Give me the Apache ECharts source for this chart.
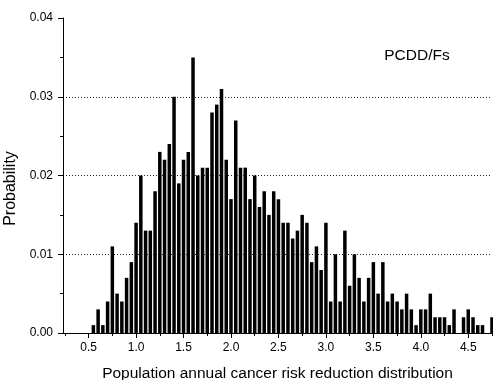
<!DOCTYPE html>
<html>
<head>
<meta charset="utf-8">
<script src="https://cdn.jsdelivr.net/npm/echarts@6/dist/echarts.min.js"></script>
<style>
  html, body { margin: 0; padding: 0; background: #fff; }
  #chart { width: 493px; height: 380px; }
</style>
</head>
<body>
<div id="chart"></div>
<script>
// bin centres (width 0.05) and probability per bin
const binCenters = [
  0.55, 0.60, 0.65, 0.70, 0.75, 0.80, 0.85, 0.90, 0.95, 1.00,
  1.05, 1.10, 1.15, 1.20, 1.25, 1.30, 1.35, 1.40, 1.45, 1.50,
  1.55, 1.60, 1.65, 1.70, 1.75, 1.80, 1.85, 1.90, 1.95, 2.00,
  2.05, 2.10, 2.15, 2.20, 2.25, 2.30, 2.35, 2.40, 2.45, 2.50,
  2.55, 2.60, 2.65, 2.70, 2.75, 2.80, 2.85, 2.90, 2.95, 3.00,
  3.05, 3.10, 3.15, 3.20, 3.25, 3.30, 3.35, 3.40, 3.45, 3.50,
  3.55, 3.60, 3.65, 3.70, 3.75, 3.80, 3.85, 3.90, 3.95, 4.00,
  4.05, 4.10, 4.15, 4.20, 4.25, 4.30, 4.35, 4.40, 4.45, 4.50,
  4.55, 4.60, 4.65, 4.70, 4.75
];
const probabilities = [
  0.001, 0.003, 0.001, 0.004, 0.011, 0.005, 0.004, 0.007, 0.009, 0.014,
  0.020, 0.013, 0.013, 0.018, 0.023, 0.022, 0.024, 0.030, 0.019, 0.022,
  0.023, 0.035, 0.020, 0.021, 0.021, 0.028, 0.029, 0.031, 0.022, 0.017,
  0.027, 0.021, 0.021, 0.017, 0.020, 0.016, 0.018, 0.015, 0.018, 0.017,
  0.014, 0.014, 0.012, 0.013, 0.015, 0.014, 0.009, 0.011, 0.008, 0.014,
  0.004, 0.010, 0.004, 0.013, 0.006, 0.010, 0.007, 0.004, 0.007, 0.009,
  0.005, 0.009, 0.004, 0.005, 0.004, 0.003, 0.005, 0.003, 0.001, 0.003,
  0.003, 0.005, 0.002, 0.002, 0.002, 0.001, 0.003, 0.000, 0.002, 0.003,
  0.002, 0.001, 0.001, 0.000, 0.002
];

// axis ticks
const xMajorTicks = [0.5, 1.0, 1.5, 2.0, 2.5, 3.0, 3.5, 4.0, 4.5];
const xMinorTicks = [0.25, 0.75, 1.25, 1.75, 2.25, 2.75, 3.25, 3.75, 4.25, 4.75];

const FONT = "'Liberation Sans', Arial, sans-serif";
const chart = echarts.init(document.getElementById("chart"));

const xCommon = {
  type: "value",
  min: 0.23,
  max: 4.75,
  position: "bottom",
  splitLine: { show: false },
};

chart.setOption({
  animation: false,
  grid: { left: 63, right: 1, top: 18, bottom: 47, outerBoundsMode: "none" },
  xAxis: [
    {
      ...xCommon,
      name: "Population annual cancer risk reduction distribution",
      nameLocation: "middle",
      nameGap: 33,
      nameTextStyle: { fontFamily: FONT, fontSize: 15.5, color: "#000" },
      axisLine: { lineStyle: { color: "#000", width: 1 } },
      axisTick: { customValues: xMajorTicks, length: 5, lineStyle: { color: "#000" } },
      axisLabel: {
        customValues: xMajorTicks,
        margin: 9,
        fontFamily: FONT,
        fontSize: 12,
        color: "#000",
        formatter: (v) => v.toFixed(1),
      },
    },
    {
      ...xCommon,
      axisLine: { show: false },
      axisTick: { customValues: xMinorTicks, length: 3, lineStyle: { color: "#000" } },
      axisLabel: { show: false },
    },
  ],
  yAxis: {
    type: "value",
    min: 0,
    max: 0.04,
    interval: 0.01,
    name: "Probability",
    nameLocation: "middle",
    nameGap: 35,
    nameTextStyle: { fontFamily: FONT, fontSize: 16, color: "#000", padding: [0, 26, 0, 0] },
    axisLine: { show: true, lineStyle: { color: "#000", width: 1 } },
    axisTick: { show: true, length: 5, lineStyle: { color: "#000" } },
    minorTick: { show: true, splitNumber: 2, length: 3, lineStyle: { color: "#000" } },
    axisLabel: {
      margin: 10,
      fontFamily: FONT,
      fontSize: 12,
      color: "#000",
      formatter: (v) => v.toFixed(2),
    },
    splitLine: {
      show: true,
      showMinLine: false,
      showMaxLine: false,
      lineStyle: { color: "#222", width: 1, type: [1, 2] },
    },
  },
  graphic: [
    {
      type: "text",
      x: 417,
      y: 56,
      style: {
        text: "PCDD/Fs",
        fontFamily: FONT,
        fontSize: 15.5,
        fill: "#000",
        align: "center",
        verticalAlign: "middle",
      },
    },
  ],
  series: [
    {
      type: "bar",
      xAxisIndex: 0,
      barWidth: 3.5,
      clip: true,
      itemStyle: { color: "#000" },
      data: binCenters.map((x, i) => [x, probabilities[i]]),
    },
  ],
});
</script>
</body>
</html>
